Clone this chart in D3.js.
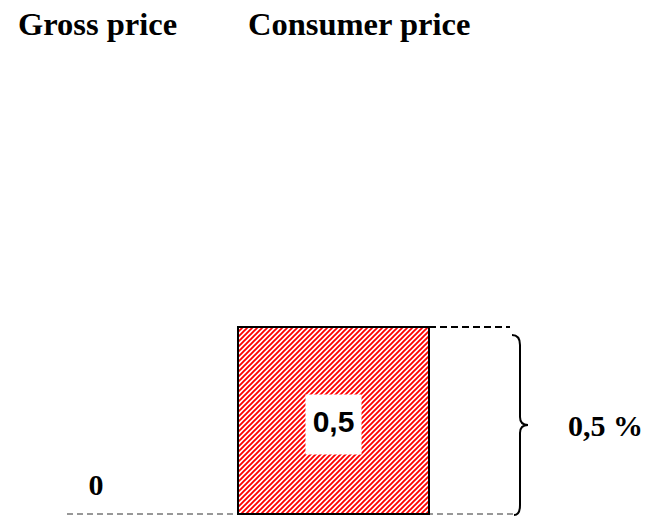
<!DOCTYPE html>
<html>
<head>
<meta charset="utf-8">
<script src="https://cdn.jsdelivr.net/npm/d3@7"></script>
<style>
  html, body { margin: 0; padding: 0; background: #fff; }
  svg { display: block; }
</style>
</head>
<body>
<script>
// Price categories and their values (percent)
const categories = ["Gross price", "Consumer price"];
const values = [0, 0.5];

const W = 647, H = 516;
const svg = d3.select("body").append("svg").attr("width", W).attr("height", H);

const fmt = d3.formatLocale({ decimal: ",", thousands: ".", grouping: [3], currency: ["", ""] }).format("~g");

const x = d3.scaleBand().domain(categories).range([0.5, 429]).paddingInner(0.1958).paddingOuter(0);
const y = d3.scaleLinear().domain([0, 0.5]).range([514, 327]);

// Hatch pattern for the bar
const defs = svg.append("defs");
const pat = defs.append("pattern")
  .attr("id", "hatch").attr("patternUnits", "userSpaceOnUse")
  .attr("width", 5).attr("height", 5);
pat.append("rect").attr("width", 5).attr("height", 5).attr("fill", "#fff");
pat.append("path")
  .attr("d", "M-1,1 l2,-2 M0,5 l5,-5 M4,6 l2,-2")
  .attr("stroke", "#ff0000").attr("stroke-width", 1.9);

// Column headings
const titleX = [18, 248];
svg.selectAll("text.title").data(categories).join("text")
  .attr("class", "title")
  .attr("x", (d, i) => titleX[i]).attr("y", 35)
  .attr("font-family", "'Liberation Serif', 'Times New Roman', serif")
  .attr("font-weight", "bold").attr("font-size", 32.5)
  .text(d => d);

// Baseline (zero level)
svg.append("line")
  .attr("x1", 67).attr("x2", 517)
  .attr("y1", y(0)).attr("y2", y(0))
  .attr("stroke", "#777").attr("stroke-width", 1.6)
  .attr("stroke-dasharray", "6,4");

// Top level of the consumer price
const last = categories.length - 1;
svg.append("line")
  .attr("x1", x(categories[last]) + x.bandwidth()).attr("x2", 510)
  .attr("y1", y(values[last])).attr("y2", y(values[last]))
  .attr("stroke", "#000").attr("stroke-width", 2)
  .attr("stroke-dasharray", "7,4");

// Bars
svg.selectAll("rect.bar").data(categories.map((c, i) => ({ c, v: values[i] })).filter(d => d.v > 0))
  .join("rect").attr("class", "bar")
  .attr("x", d => x(d.c)).attr("width", x.bandwidth())
  .attr("y", d => y(d.v)).attr("height", d => y(0) - y(d.v))
  .attr("fill", "url(#hatch)").attr("stroke", "#000").attr("stroke-width", 2);

// Value labels
categories.forEach((c, i) => {
  const v = values[i];
  const cx = x(c) + x.bandwidth() / 2;
  if (v > 0) {
    const cy = (y(v) + y(0)) / 2 + 4;
    svg.append("rect").attr("x", cx - 28).attr("y", cy - 30).attr("width", 56).attr("height", 60).attr("fill", "#fff");
    svg.append("text").attr("x", cx).attr("y", cy + 7)
      .attr("text-anchor", "middle")
      .attr("font-family", "'Liberation Sans', Arial, sans-serif")
      .attr("font-weight", "bold").attr("font-size", 30)
      .text(fmt(v));
  } else {
    svg.append("text").attr("x", cx).attr("y", y(0) - 19)
      .attr("text-anchor", "middle")
      .attr("font-family", "'Liberation Serif', 'Times New Roman', serif")
      .attr("font-weight", "bold").attr("font-size", 30)
      .text(fmt(v));
  }
});

// Curly brace spanning the change
const braceTop = y(values[last]) + 8, braceBot = y(0) + 1;
const braceMid = (braceTop + braceBot) / 2;
const bx = 520;
svg.append("path")
  .attr("d", `M${bx - 8},${braceTop} Q${bx},${braceTop} ${bx},${braceTop + 10} L${bx},${braceMid - 8} Q${bx},${braceMid} ${bx + 8},${braceMid} Q${bx},${braceMid} ${bx},${braceMid + 8} L${bx},${braceBot - 10} Q${bx},${braceBot} ${bx - 6},${braceBot}`)
  .attr("fill", "none").attr("stroke", "#000").attr("stroke-width", 2);

svg.append("text").attr("x", 568).attr("y", braceMid + 11)
  .attr("font-family", "'Liberation Serif', 'Times New Roman', serif")
  .attr("font-weight", "bold").attr("font-size", 30)
  .text(fmt(values[last] - values[0]) + " %");
</script>
</body>
</html>
